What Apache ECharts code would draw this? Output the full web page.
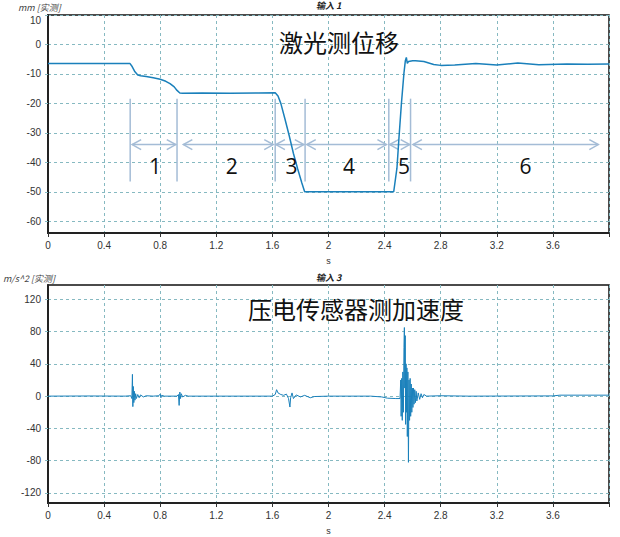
<!DOCTYPE html>
<html>
<head>
<meta charset="utf-8">
<script src="https://cdn.jsdelivr.net/npm/echarts@6/dist/echarts.min.js"></script>
<style>html,body{margin:0;padding:0;background:#fff;}#c{width:620px;height:537px;}</style>
</head>
<body>
<div id="c"></div>
<script>
// ---- data ----
const xTicks = [0, 0.4, 0.8, 1.2, 1.6, 2, 2.4, 2.8, 3.2, 3.6];
const dispTicks = [10, 0, -10, -20, -30, -40, -50, -60];
const accTicks = [120, 80, 40, 0, -40, -80, -120];

const displacement = [
  [0, -6.5], [0.3, -6.5], [0.585, -6.5], [0.6, -7.5], [0.62, -9.3], [0.64, -10.4], [0.66, -10.6],
  [0.7, -10.9], [0.75, -11.3], [0.8, -11.8], [0.84, -12.5], [0.87, -13.3], [0.9, -14.4], [0.92, -15.6],
  [0.94, -16.5], [0.96, -16.6], [1.1, -16.5], [1.3, -16.6], [1.5, -16.5], [1.62, -16.4], [1.64, -17.5],
  [1.66, -20], [1.69, -25.4], [1.72, -31], [1.75, -37], [1.78, -42.2], [1.81, -47], [1.83, -50],
  [2.0, -50], [2.2, -50], [2.465, -50], [2.488, -42], [2.502, -32], [2.52, -20], [2.538, -9.7],
  [2.548, -5.5], [2.555, -4.4], [2.562, -6.4], [2.57, -5.8], [2.6, -5.5], [2.62, -5.5], [2.68, -5.8],
  [2.75, -6.8], [2.8, -7.1], [2.9, -7], [3.05, -6.5], [3.2, -7], [3.35, -6.3], [3.5, -6.9],
  [3.7, -6.6], [3.85, -6.7], [4.0, -6.6]
];

const acceleration = [
  [0, 0], [0.3, 0.2], [0.55, 0], [0.59, 0.5], [0.598, -3], [0.602, 27], [0.605, -13], [0.608, 12],
  [0.612, -8], [0.616, 6], [0.62, -5], [0.625, 3], [0.63, -3], [0.64, 2], [0.65, -2], [0.66, 1.5],
  [0.68, -1], [0.7, 0.5], [0.75, 0], [0.79, 0.5], [0.8, 2.5], [0.805, -2], [0.81, 1], [0.83, 0],
  [0.92, 0], [0.93, 2], [0.935, -11.5], [0.94, 5], [0.945, -3], [0.95, 3], [0.96, -1], [0.98, 1],
  [1.0, 0], [1.6, 0], [1.62, 2], [1.63, 8], [1.64, 4], [1.66, 2], [1.68, 1], [1.7, 2.5], [1.715, -3],
  [1.725, -13.5], [1.73, -2], [1.74, 4], [1.75, -3], [1.77, 1.5], [1.8, -1], [1.83, 1], [1.87, -2],
  [1.9, -0.5], [2.0, 0], [2.3, 0], [2.38, -1], [2.42, -2.5], [2.48, -3], [2.51, -3],
  [2.515, 20], [2.518, -25], [2.522, 22], [2.526, -30], [2.53, 30], [2.534, -20], [2.538, 60],
  [2.541, 85], [2.544, 10], [2.547, 75], [2.55, -35], [2.553, 40], [2.556, -20], [2.559, 35],
  [2.562, -50], [2.566, 30], [2.57, -82], [2.574, 20], [2.578, -30], [2.582, 22], [2.586, -25],
  [2.59, 15], [2.594, -20], [2.598, 10], [2.602, -14], [2.606, 10], [2.61, -10], [2.615, 8],
  [2.62, -8], [2.625, 6], [2.63, -6], [2.64, 4], [2.65, -4], [2.66, 3], [2.67, -2], [2.68, 2],
  [2.7, 0], [2.8, 0.5], [3.0, 0], [3.6, 0.3], [3.65, 1.2], [4.0, 1.2]
];

// phase markers (time, s) and their vertical span (mm)
const markerX = [0.586, 0.92, 1.62, 1.833, 2.43, 2.585];
const markerSpan = [-18.4, -46.5];
// arrows: [start, end, level]
const arrowSegs = [[0.6, 0.911, -34], [0.965, 1.606, -34], [1.625, 1.824, -34], [1.845, 2.413, -34], [2.436, 2.579, -34], [2.602, 3.924, -34]];
const phaseLabels = ['1', '2', '3', '4', '5', '6'];
const phaseLabelX = [0.764, 1.31, 1.737, 2.147, 2.538, 3.404];
const phaseLabelY = -41.1;

// ---- chart ----
const lineColor = '#1a80bb';
const gridColor = '#86b9c1';
const markColor = '#a4bcd6';
const chart = echarts.init(document.getElementById('c'), null, {renderer: 'svg'});

function xAxisCfg(gridIndex) {
  return {
    type: 'value', gridIndex, min: 0, max: 4, interval: 0.4,
    name: 's', nameLocation: 'middle', nameGap: 23,
    nameTextStyle: {color: '#333', fontSize: 9, fontFamily: 'Liberation Sans'},
    axisLine: {show: true, onZero: false, lineStyle: {color: '#222', width: 2}},
    axisTick: {show: true, length: 4, lineStyle: {color: '#333'}},
    axisLabel: {color: '#333', fontSize: 10, fontFamily: 'Liberation Sans', margin: 7,
      formatter: v => (xTicks.indexOf(Math.round(v * 10) / 10) >= 0 ? String(Math.round(v * 10) / 10) : '')},
    splitLine: {show: true, lineStyle: {color: gridColor, type: [3, 3], width: 1}}
  };
}
function yAxisCfg(gridIndex, min, max, ticks) {
  return {
    type: 'value', gridIndex, min, max,
    axisLine: {show: true, onZero: false, lineStyle: {color: '#222', width: 2}},
    axisTick: {show: true, inside: false, length: 3, customValues: ticks, lineStyle: {color: gridColor}},
    axisLabel: {color: '#333', fontSize: 10, fontFamily: 'Liberation Sans', margin: 7, customValues: ticks,
      formatter: v => (v === max ? '{top|' + v + '}' : String(v)),
      rich: {top: {padding: [11, 0, 0, 0], color: '#333', fontSize: 10, fontFamily: 'Liberation Sans'}}},
    splitLine: {show: true, lineStyle: {color: gridColor, type: [3, 3], width: 1}}
  };
}

const smallTitle = {fontSize: 9, fontStyle: 'italic', fontWeight: 'bold', color: '#222', fontFamily: 'Noto Sans CJK SC'};
const unitTitle = {fontSize: 9, fontStyle: 'italic', fontWeight: 'normal', color: '#444', fontFamily: 'Noto Sans CJK SC'};
const bigTitle = {fontSize: 24, fontWeight: 'normal', color: '#111', fontFamily: 'Noto Sans CJK SC'};

const option = {
  animation: false,
  backgroundColor: '#fff',
  grid: [
    {left: 48, right: 11, top: 15, height: 218, show: true, borderColor: '#111', borderWidth: 1.5},
    {left: 48, right: 11, top: 285, height: 218, show: true, borderColor: '#111', borderWidth: 1.5}
  ],
  title: [
    {text: '输入 1', left: 316, top: 1, padding: 0, textStyle: smallTitle},
    {text: '输入 3', left: 316, top: 273, padding: 0, textStyle: smallTitle},
    {text: 'mm [实测]', left: 18, top: 3, padding: 0, textStyle: unitTitle},
    {text: 'm/s^2 [实测]', left: 3, top: 274, padding: 0, textStyle: unitTitle},
    {text: '激光测位移', left: 279, top: 29, padding: 0, textStyle: bigTitle},
    {text: '压电传感器测加速度', left: 248, top: 296, padding: 0, textStyle: bigTitle}
  ],
  xAxis: [xAxisCfg(0), xAxisCfg(1)],
  yAxis: [yAxisCfg(0, -64, 10, dispTicks), yAxisCfg(1, -132.4, 137.7, accTicks)],
  series: [
    {
      type: 'line', xAxisIndex: 0, yAxisIndex: 0, data: displacement, showSymbol: false,
      lineStyle: {color: lineColor, width: 1.5}, silent: true, z: 5
    },
    {
      type: 'line', xAxisIndex: 1, yAxisIndex: 1, data: acceleration, showSymbol: false,
      lineStyle: {color: lineColor, width: 1}, silent: true, z: 5
    },
    {
      type: 'custom', xAxisIndex: 0, yAxisIndex: 0, silent: true, z: 4,
      data: markerX.map(x => [x, markerSpan[0], markerSpan[1]]),
      encode: {x: 0, y: [1, 2]},
      renderItem: function (params, api) {
        const a = api.coord([api.value(0), api.value(1)]);
        const b = api.coord([api.value(0), api.value(2)]);
        return {type: 'line', shape: {x1: a[0], y1: a[1], x2: b[0], y2: b[1]},
          style: {stroke: markColor, lineWidth: 1.5}};
      }
    },
    {
      type: 'custom', xAxisIndex: 0, yAxisIndex: 0, silent: true, z: 4,
      data: arrowSegs,
      encode: {x: [0, 1], y: 2},
      renderItem: function (params, api) {
        const p1 = api.coord([api.value(0), api.value(2)]);
        const p2 = api.coord([api.value(1), api.value(2)]);
        const h = 9, w = 5;
        const st = {stroke: markColor, lineWidth: 1.5, fill: null};
        return {type: 'group', children: [
          {type: 'line', shape: {x1: p1[0], y1: p1[1], x2: p2[0], y2: p2[1]}, style: st},
          {type: 'polyline', shape: {points: [[p1[0] + h, p1[1] - w], [p1[0], p1[1]], [p1[0] + h, p1[1] + w]]}, style: st},
          {type: 'polyline', shape: {points: [[p2[0] - h, p2[1] - w], [p2[0], p2[1]], [p2[0] - h, p2[1] + w]]}, style: st}
        ]};
      }
    },
    {
      type: 'custom', xAxisIndex: 0, yAxisIndex: 0, silent: true, z: 6,
      data: phaseLabelX.map((x, i) => [x, phaseLabelY, i]),
      encode: {x: 0, y: 1},
      renderItem: function (params, api) {
        const p = api.coord([api.value(0), api.value(1)]);
        return {type: 'text', style: {text: phaseLabels[api.value(2)], x: p[0], y: p[1],
          align: 'center', verticalAlign: 'middle', fontSize: 21, fontFamily: 'Open Sans', fill: '#111'}};
      }
    }
  ]
};
chart.setOption(option);
</script>
</body>
</html>
